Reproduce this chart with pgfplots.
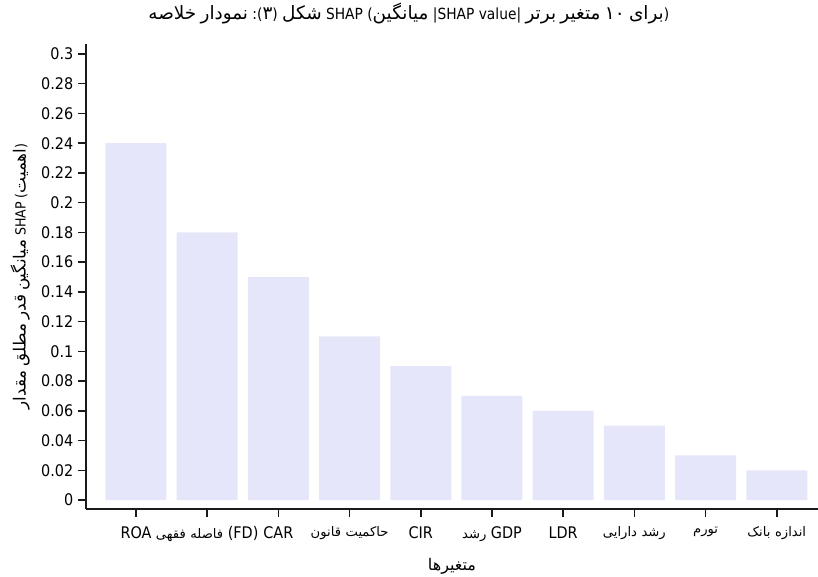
\documentclass[border=0pt]{standalone}
\usepackage{fontspec}
\setmainfont{DejaVu Sans Condensed}
\newfontfamily\arabicfont[Script=Arabic, Scale=1.2]{DejaVu Sans}
\newfontfamily\arabicsmall[Script=Arabic, Scale=0.82]{DejaVu Sans}
\TeXXeTstate=1
\usepackage{pgfplots}
\pgfplotsset{compat=1.18}
\definecolor{lav}{HTML}{E6E6FA}
\definecolor{axblack}{HTML}{1A1A1A}
\newcommand{\fa}[1]{{\arabicfont\beginR #1\endR}}
\newcommand{\fb}[1]{{\arabicsmall\beginR #1\endR}}

\begin{document}
\begin{tikzpicture}
\useasboundingbox (-64.5pt,-51pt) rectangle (549pt,381.75pt);
\begin{axis}[
    at={(0,0)}, anchor=south west,
    scale only axis,
    width=549pt, height=348.75pt,
    xmin=-0.702, xmax=9.579,
    ymin=-0.006, ymax=0.3067,
    axis lines=left,
    axis line style={-, line width=1.4pt, draw=axblack},
    xtick style={line width=1.3pt, draw=axblack},
    ytick style={line width=1.2pt, draw=axblack},
    tick align=outside,
    xtick pos=bottom,
    ytick pos=left,
    major tick length=6pt,
    xtick={0,1,...,9},
    xticklabels={
        ROA,
        \fb{فقهی} \fb{فاصله} (FD),
        CAR,
        \fb{قانون} \fb{حاکمیت},
        CIR,
        \fb{رشد} GDP,
        LDR,
        \fb{دارایی} \fb{رشد},
        \fb{تورم},
        \fb{بانک} \fb{اندازه}
    },
    xticklabel style={inner ysep=7pt},
    ytick={0,0.02,0.04,0.06,0.08,0.1,0.12,0.14,0.16,0.18,0.2,0.22,0.24,0.26,0.28,0.3},
    yticklabel style={/pgf/number format/fixed, /pgf/number format/precision=2,
        /pgf/number format/assume math mode=true},
    tick label style={font=\fontsize{12}{14}\selectfont},
    title={\fa{خلاصه} \fa{نمودار} :(\fa{۳}) \fa{شکل} SHAP (\fa{میانگین} |SHAP value| \fa{برتر} \fa{متغیر} \fa{۱۰} \fa{برای})},
    every axis title/.style={at={(axis description cs:0.441,1.0645)}, anchor=center, font=\fontsize{11.5}{13}\selectfont},
    xlabel={\fa{متغیرها}},
    xlabel style={at={(axis description cs:0.5,-0.1226)}, anchor=center, font=\fontsize{10}{12}\selectfont},
    ylabel={\fa{مقدار} \fa{مطلق} \fa{قدر} \fa{میانگین} SHAP (\fa{اهمیت})},
    ylabel style={at={(axis description cs:-0.090,0.5)}, anchor=center, font=\fontsize{10.5}{12}\selectfont},
    ybar,
    bar width=0.857,
    bar shift=0pt,
]
\addplot[draw=none, fill=lav] coordinates {
(0,0.24)
(1,0.18)
(2,0.15)
(3,0.11)
(4,0.09)
(5,0.07)
(6,0.06)
(7,0.05)
(8,0.03)
(9,0.02)
};
\end{axis}
\end{tikzpicture}
\end{document}
